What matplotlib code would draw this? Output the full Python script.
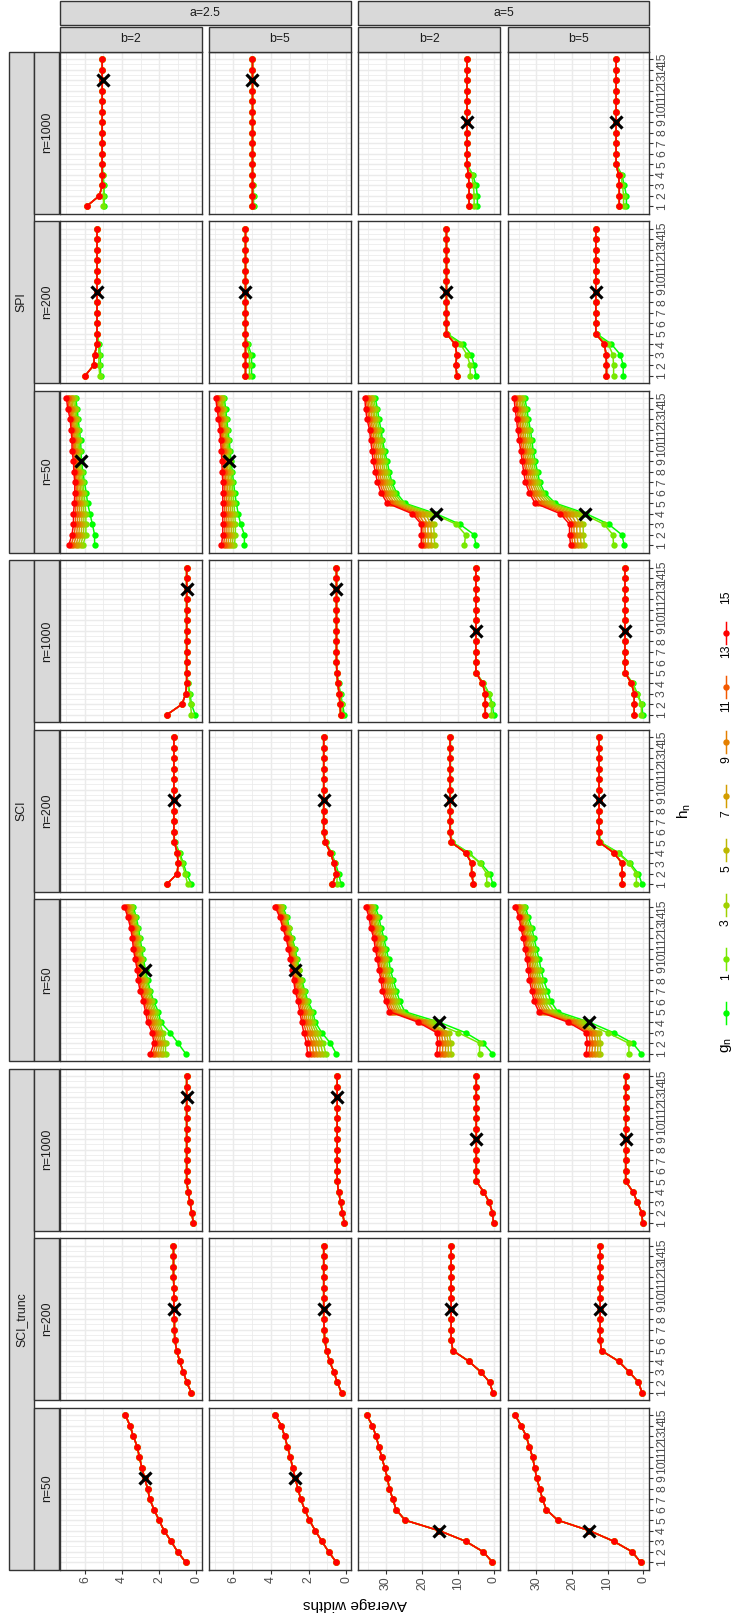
import numpy as np
import matplotlib
matplotlib.use('Agg')
import matplotlib.pyplot as plt
from matplotlib.patches import Rectangle
from matplotlib.lines import Line2D
from matplotlib.ticker import MultipleLocator, FixedLocator

plt.rcParams['font.family'] = ['Liberation Sans', 'DejaVu Sans']

# ---------------- data ----------------
h_n = list(range(1, 16))
g_n = [1, 3, 5, 7, 9, 11, 13, 15]
methods = ['SPI', 'SCI', 'SCI_trunc']
sizes = ['n=1000', 'n=200', 'n=50']
a_vals = ['a=2.5', 'a=5']
b_vals = ['b=2', 'b=5']

# each panel: 1 series (same for every g), 3 series (g=1, g=3, g>=5) or 8 series (g=1..15)
# panels in order (a=2.5,b=2), (a=2.5,b=5), (a=5,b=2), (a=5,b=5)
spi_n1000 = [
    [[4.97, 4.97, 4.97, 5.02, 5.07, 5.07, 5.07, 5.07, 5.07, 5.07, 5.07, 5.07, 5.07, 5.07, 5.07],
     [5.00, 5.00, 5.00, 5.05, 5.07, 5.07, 5.07, 5.07, 5.07, 5.07, 5.07, 5.07, 5.07, 5.07, 5.07],
     [5.91, 5.22, 5.07, 5.07, 5.07, 5.07, 5.07, 5.07, 5.07, 5.07, 5.07, 5.07, 5.07, 5.07, 5.07]],
    [[4.93, 4.93, 4.95, 4.99, 4.99, 4.99, 4.99, 4.99, 4.99, 4.99, 4.99, 4.99, 4.99, 4.99, 4.99],
     [4.97, 4.97, 4.98, 4.99, 4.99, 4.99, 4.99, 4.99, 4.99, 4.99, 4.99, 4.99, 4.99, 4.99, 4.99],
     [4.99, 4.99, 4.99, 4.99, 4.99, 4.99, 4.99, 4.99, 4.99, 4.99, 4.99, 4.99, 4.99, 4.99, 4.99]],
    [[4.6, 4.6, 5.0, 5.9, 7.5, 7.5, 7.5, 7.5, 7.5, 7.5, 7.5, 7.5, 7.5, 7.5, 7.5],
     [5.5, 5.5, 5.7, 6.2, 7.5, 7.5, 7.5, 7.5, 7.5, 7.5, 7.5, 7.5, 7.5, 7.5, 7.5],
     [6.9, 6.9, 6.9, 7.1, 7.5, 7.5, 7.5, 7.5, 7.5, 7.5, 7.5, 7.5, 7.5, 7.5, 7.5]],
    [[4.7, 4.7, 5.3, 6.0, 7.6, 7.6, 7.6, 7.6, 7.6, 7.6, 7.6, 7.6, 7.6, 7.6, 7.6],
     [5.5, 5.5, 5.8, 6.3, 7.6, 7.6, 7.6, 7.6, 7.6, 7.6, 7.6, 7.6, 7.6, 7.6, 7.6],
     [6.7, 6.7, 6.7, 6.9, 7.6, 7.6, 7.6, 7.6, 7.6, 7.6, 7.6, 7.6, 7.6, 7.6, 7.6]],
]
spi_n200 = [
    [[5.15, 5.17, 5.17, 5.22, 5.35, 5.35, 5.35, 5.35, 5.35, 5.35, 5.35, 5.35, 5.35, 5.35, 5.35],
     [5.20, 5.25, 5.25, 5.27, 5.35, 5.35, 5.35, 5.35, 5.35, 5.35, 5.35, 5.35, 5.35, 5.35, 5.35],
     [5.99, 5.53, 5.48, 5.35, 5.35, 5.35, 5.35, 5.35, 5.35, 5.35, 5.35, 5.35, 5.35, 5.35, 5.35]],
    [[5.04, 5.04, 5.04, 5.25, 5.37, 5.37, 5.37, 5.37, 5.37, 5.37, 5.37, 5.37, 5.37, 5.37, 5.37],
     [5.15, 5.15, 5.15, 5.30, 5.37, 5.37, 5.37, 5.37, 5.37, 5.37, 5.37, 5.37, 5.37, 5.37, 5.37],
     [5.37, 5.37, 5.37, 5.37, 5.37, 5.37, 5.37, 5.37, 5.37, 5.37, 5.37, 5.37, 5.37, 5.37, 5.37]],
    [[5.0, 5.5, 6.3, 8.6, 13.0, 13.2, 13.2, 13.2, 13.2, 13.2, 13.2, 13.2, 13.2, 13.2, 13.2],
     [6.6, 6.6, 7.5, 9.3, 13.1, 13.2, 13.2, 13.2, 13.2, 13.2, 13.2, 13.2, 13.2, 13.2, 13.2],
     [10.3, 10.6, 10.3, 10.8, 13.2, 13.2, 13.2, 13.2, 13.2, 13.2, 13.2, 13.2, 13.2, 13.2, 13.2]],
    [[5.6, 5.6, 6.4, 8.9, 13.1, 13.3, 13.3, 13.3, 13.3, 13.3, 13.3, 13.3, 13.3, 13.3, 13.3],
     [8.3, 8.3, 8.5, 9.8, 13.2, 13.3, 13.3, 13.3, 13.3, 13.3, 13.3, 13.3, 13.3, 13.3, 13.3],
     [10.3, 10.3, 10.4, 10.9, 13.3, 13.3, 13.3, 13.3, 13.3, 13.3, 13.3, 13.3, 13.3, 13.3, 13.3]],
]
spi_n50 = [
    [[5.48, 5.48, 5.60, 5.73, 5.86, 5.93, 6.03, 6.11, 6.19, 6.21, 6.24, 6.30, 6.37, 6.42, 6.50],
     [6.11, 5.95, 5.95, 5.95, 6.00, 6.05, 6.12, 6.18, 6.25, 6.28, 6.31, 6.37, 6.44, 6.49, 6.56],
     [6.24, 6.08, 6.06, 6.06, 6.10, 6.13, 6.19, 6.25, 6.31, 6.35, 6.38, 6.43, 6.50, 6.56, 6.63],
     [6.37, 6.20, 6.17, 6.17, 6.19, 6.22, 6.26, 6.32, 6.37, 6.42, 6.44, 6.50, 6.56, 6.64, 6.71],
     [6.49, 6.33, 6.29, 6.29, 6.29, 6.30, 6.34, 6.39, 6.44, 6.49, 6.51, 6.56, 6.62, 6.71, 6.78],
     [6.62, 6.45, 6.40, 6.40, 6.38, 6.38, 6.41, 6.46, 6.50, 6.56, 6.57, 6.62, 6.68, 6.78, 6.85],
     [6.75, 6.58, 6.51, 6.51, 6.48, 6.47, 6.48, 6.53, 6.56, 6.63, 6.64, 6.69, 6.74, 6.86, 6.93],
     [6.88, 6.70, 6.62, 6.62, 6.57, 6.55, 6.55, 6.60, 6.62, 6.70, 6.70, 6.75, 6.80, 6.93, 7.00]],
    [[5.42, 5.42, 5.62, 5.75, 5.85, 5.93, 6.00, 6.06, 6.13, 6.18, 6.23, 6.30, 6.36, 6.42, 6.49],
     [5.95, 5.90, 5.90, 5.93, 5.98, 6.03, 6.08, 6.13, 6.19, 6.24, 6.29, 6.35, 6.41, 6.48, 6.55],
     [6.07, 6.01, 6.01, 6.04, 6.08, 6.12, 6.16, 6.21, 6.26, 6.31, 6.36, 6.41, 6.48, 6.55, 6.62],
     [6.18, 6.12, 6.12, 6.14, 6.18, 6.21, 6.24, 6.29, 6.33, 6.38, 6.42, 6.47, 6.54, 6.61, 6.68],
     [6.30, 6.24, 6.24, 6.25, 6.27, 6.30, 6.33, 6.36, 6.41, 6.44, 6.49, 6.54, 6.61, 6.68, 6.75],
     [6.41, 6.35, 6.35, 6.36, 6.37, 6.39, 6.41, 6.44, 6.48, 6.51, 6.56, 6.60, 6.67, 6.74, 6.82],
     [6.53, 6.46, 6.46, 6.46, 6.47, 6.48, 6.49, 6.52, 6.55, 6.58, 6.62, 6.66, 6.74, 6.81, 6.88],
     [6.64, 6.57, 6.57, 6.57, 6.57, 6.57, 6.57, 6.60, 6.62, 6.65, 6.69, 6.72, 6.80, 6.87, 6.95]],
    [[5.0, 5.5, 9.5, 16.1, 24.8, 27.1, 28.4, 29.1, 29.7, 30.4, 31.0, 31.4, 32.0, 32.4, 33.0],
     [8.2, 7.9, 10.5, 17.0, 25.5, 27.7, 28.9, 29.6, 30.2, 30.8, 31.4, 31.9, 32.5, 32.9, 33.5],
     [16.5, 16.6, 16.8, 18.0, 26.2, 28.3, 29.5, 30.2, 30.8, 31.3, 31.9, 32.4, 33.0, 33.4, 33.9],
     [17.4, 17.4, 17.6, 19.0, 26.9, 28.9, 30.1, 30.7, 31.3, 31.8, 32.4, 32.8, 33.4, 33.8, 34.3],
     [18.3, 18.3, 18.4, 20.0, 27.6, 29.6, 30.6, 31.3, 31.9, 32.4, 32.8, 33.3, 33.9, 34.3, 34.7],
     [19.1, 19.1, 19.2, 21.0, 28.3, 30.2, 31.2, 31.9, 32.5, 32.9, 33.3, 33.7, 34.4, 34.8, 35.1],
     [19.7, 19.7, 19.8, 21.9, 29.0, 30.8, 31.8, 32.4, 33.0, 33.4, 33.8, 34.2, 34.8, 35.2, 35.5],
     [20.2, 20.2, 20.2, 22.7, 29.7, 31.4, 32.4, 33.0, 33.6, 33.9, 34.3, 34.6, 35.3, 35.7, 35.9]],
    [[5.3, 6.0, 9.7, 16.0, 24.7, 27.7, 29.1, 29.7, 30.4, 30.9, 31.3, 31.7, 32.3, 32.7, 33.3],
     [8.3, 8.5, 11.0, 17.0, 25.5, 28.3, 29.6, 30.2, 30.9, 31.4, 31.8, 32.2, 32.8, 33.2, 33.8],
     [16.5, 16.8, 16.9, 18.1, 26.3, 28.9, 30.2, 30.8, 31.4, 31.9, 32.3, 32.7, 33.3, 33.7, 34.2],
     [17.4, 17.7, 17.8, 19.2, 27.1, 29.5, 30.8, 31.3, 31.9, 32.4, 32.9, 33.3, 33.8, 34.2, 34.6],
     [18.3, 18.6, 18.7, 20.3, 27.9, 30.1, 31.3, 31.9, 32.4, 32.9, 33.4, 33.8, 34.2, 34.6, 35.0],
     [19.1, 19.4, 19.5, 21.3, 28.8, 30.8, 31.9, 32.5, 33.0, 33.4, 33.9, 34.3, 34.7, 35.1, 35.5],
     [19.8, 20.1, 20.1, 22.3, 29.6, 31.4, 32.5, 33.0, 33.5, 33.9, 34.4, 34.8, 35.1, 35.5, 35.9],
     [20.4, 20.7, 20.7, 23.3, 30.4, 32.0, 33.1, 33.6, 34.0, 34.4, 34.9, 35.3, 35.6, 36.0, 36.3]],
]
sci_n1000 = [
    [[0.05, 0.25, 0.33, 0.43, 0.51, 0.51, 0.51, 0.51, 0.51, 0.51, 0.51, 0.51, 0.51, 0.51, 0.51],
     [0.25, 0.30, 0.38, 0.45, 0.51, 0.51, 0.51, 0.51, 0.51, 0.51, 0.51, 0.51, 0.51, 0.51, 0.51],
     [1.58, 0.76, 0.56, 0.51, 0.51, 0.51, 0.51, 0.51, 0.51, 0.51, 0.51, 0.51, 0.51, 0.51, 0.51]],
    [[0.10, 0.20, 0.30, 0.41, 0.50, 0.52, 0.52, 0.52, 0.52, 0.52, 0.52, 0.52, 0.52, 0.52, 0.52],
     [0.20, 0.25, 0.33, 0.43, 0.50, 0.52, 0.52, 0.52, 0.52, 0.52, 0.52, 0.52, 0.52, 0.52, 0.52],
     [0.30, 0.33, 0.38, 0.45, 0.50, 0.52, 0.52, 0.52, 0.52, 0.52, 0.52, 0.52, 0.52, 0.52, 0.52]],
    [[0.1, 0.4, 1.3, 2.9, 5.0, 5.0, 5.0, 5.0, 5.0, 5.0, 5.0, 5.0, 5.0, 5.0, 5.0],
     [0.7, 0.7, 1.5, 3.0, 5.0, 5.0, 5.0, 5.0, 5.0, 5.0, 5.0, 5.0, 5.0, 5.0, 5.0],
     [2.4, 2.4, 2.4, 3.2, 5.0, 5.0, 5.0, 5.0, 5.0, 5.0, 5.0, 5.0, 5.0, 5.0, 5.0]],
    [[0.1, 0.4, 1.6, 2.9, 5.1, 5.1, 5.1, 5.1, 5.1, 5.1, 5.1, 5.1, 5.1, 5.1, 5.1],
     [0.5, 0.5, 1.8, 3.0, 5.1, 5.1, 5.1, 5.1, 5.1, 5.1, 5.1, 5.1, 5.1, 5.1, 5.1],
     [2.5, 2.5, 2.5, 3.3, 5.1, 5.1, 5.1, 5.1, 5.1, 5.1, 5.1, 5.1, 5.1, 5.1, 5.1]],
]
sci_n200 = [
    [[0.25, 0.51, 0.69, 0.89, 1.15, 1.20, 1.20, 1.20, 1.20, 1.20, 1.20, 1.20, 1.20, 1.20, 1.20],
     [0.45, 0.60, 0.75, 0.93, 1.17, 1.20, 1.20, 1.20, 1.20, 1.20, 1.20, 1.20, 1.20, 1.20, 1.20],
     [1.58, 1.02, 0.97, 1.02, 1.17, 1.20, 1.20, 1.20, 1.20, 1.20, 1.20, 1.20, 1.20, 1.20, 1.20]],
    [[0.28, 0.40, 0.58, 0.78, 1.09, 1.20, 1.20, 1.20, 1.20, 1.20, 1.20, 1.20, 1.20, 1.20, 1.20],
     [0.50, 0.48, 0.62, 0.80, 1.10, 1.20, 1.20, 1.20, 1.20, 1.20, 1.20, 1.20, 1.20, 1.20, 1.20],
     [0.74, 0.53, 0.66, 0.84, 1.12, 1.20, 1.20, 1.20, 1.20, 1.20, 1.20, 1.20, 1.20, 1.20, 1.20]],
    [[0.3, 1.1, 3.7, 7.0, 11.6, 12.1, 12.1, 12.1, 12.1, 12.1, 12.1, 12.1, 12.1, 12.1, 12.1],
     [2.0, 2.0, 3.9, 7.2, 11.7, 12.1, 12.1, 12.1, 12.1, 12.1, 12.1, 12.1, 12.1, 12.1, 12.1],
     [5.7, 6.2, 6.2, 7.9, 11.9, 12.2, 12.2, 12.2, 12.2, 12.2, 12.2, 12.2, 12.2, 12.2, 12.2]],
    [[0.3, 1.3, 3.7, 6.9, 12.0, 12.4, 12.4, 12.4, 12.4, 12.4, 12.4, 12.4, 12.4, 12.4, 12.4],
     [1.9, 1.9, 4.0, 7.2, 12.1, 12.4, 12.4, 12.4, 12.4, 12.4, 12.4, 12.4, 12.4, 12.4, 12.4],
     [5.9, 5.9, 5.9, 8.3, 12.3, 12.4, 12.4, 12.4, 12.4, 12.4, 12.4, 12.4, 12.4, 12.4, 12.4]],
]
sci_n50 = [
    [[0.56, 0.97, 1.40, 1.91, 2.04, 2.29, 2.47, 2.62, 2.73, 2.85, 2.93, 3.03, 3.11, 3.24, 3.39],
     [1.65, 1.65, 1.78, 1.99, 2.17, 2.36, 2.53, 2.68, 2.79, 2.90, 2.99, 3.08, 3.17, 3.30, 3.46],
     [1.79, 1.75, 1.88, 2.10, 2.26, 2.44, 2.61, 2.76, 2.86, 2.97, 3.06, 3.14, 3.23, 3.37, 3.53],
     [1.92, 1.86, 1.98, 2.20, 2.36, 2.52, 2.70, 2.83, 2.92, 3.03, 3.12, 3.20, 3.29, 3.43, 3.60],
     [2.06, 1.96, 2.07, 2.31, 2.45, 2.61, 2.78, 2.91, 2.99, 3.10, 3.19, 3.26, 3.36, 3.50, 3.66],
     [2.20, 2.06, 2.17, 2.41, 2.54, 2.69, 2.86, 2.98, 3.05, 3.16, 3.26, 3.32, 3.42, 3.56, 3.73],
     [2.33, 2.17, 2.27, 2.52, 2.64, 2.77, 2.95, 3.06, 3.12, 3.23, 3.33, 3.38, 3.48, 3.63, 3.80],
     [2.47, 2.27, 2.37, 2.62, 2.73, 2.85, 3.03, 3.13, 3.18, 3.29, 3.39, 3.44, 3.54, 3.69, 3.87]],
    [[0.53, 0.84, 1.30, 1.65, 1.78, 2.04, 2.21, 2.37, 2.49, 2.62, 2.72, 2.88, 3.03, 3.16, 3.38],
     [1.09, 1.22, 1.48, 1.75, 1.86, 2.10, 2.27, 2.42, 2.53, 2.66, 2.76, 2.92, 3.07, 3.21, 3.43],
     [1.25, 1.37, 1.61, 1.85, 1.96, 2.18, 2.35, 2.48, 2.59, 2.71, 2.81, 2.97, 3.12, 3.27, 3.49],
     [1.41, 1.52, 1.74, 1.96, 2.06, 2.26, 2.42, 2.55, 2.65, 2.77, 2.87, 3.01, 3.17, 3.32, 3.55],
     [1.58, 1.66, 1.87, 2.06, 2.17, 2.33, 2.50, 2.61, 2.70, 2.82, 2.92, 3.06, 3.23, 3.38, 3.61],
     [1.74, 1.81, 2.00, 2.16, 2.27, 2.41, 2.57, 2.67, 2.76, 2.87, 2.97, 3.11, 3.28, 3.43, 3.67],
     [1.90, 1.96, 2.13, 2.27, 2.37, 2.49, 2.65, 2.74, 2.82, 2.93, 3.03, 3.15, 3.33, 3.49, 3.73],
     [2.06, 2.11, 2.26, 2.37, 2.47, 2.57, 2.72, 2.80, 2.88, 2.98, 3.08, 3.20, 3.38, 3.54, 3.79]],
    [[0.4, 3.0, 7.9, 15.2, 24.8, 26.2, 27.1, 28.0, 28.8, 29.3, 30.0, 30.6, 31.4, 32.0, 33.0],
     [4.0, 4.0, 9.9, 17.0, 25.6, 26.9, 27.8, 28.6, 29.4, 29.9, 30.5, 31.1, 31.9, 32.5, 33.5],
     [11.9, 12.0, 12.5, 17.8, 26.2, 27.5, 28.4, 29.1, 29.8, 30.3, 31.0, 31.5, 32.3, 32.9, 33.9],
     [12.7, 12.7, 13.2, 18.5, 26.8, 28.0, 28.9, 29.5, 30.2, 30.7, 31.4, 31.8, 32.7, 33.3, 34.3],
     [13.5, 13.4, 13.9, 19.2, 27.4, 28.5, 29.4, 29.9, 30.6, 31.1, 31.8, 32.2, 33.1, 33.6, 34.6],
     [14.3, 14.2, 14.6, 19.8, 28.0, 29.1, 29.9, 30.5, 31.1, 31.6, 32.2, 32.6, 33.5, 34.0, 35.0],
     [15.1, 14.9, 15.3, 20.5, 28.6, 29.6, 30.5, 30.9, 31.6, 32.0, 32.6, 33.0, 33.9, 34.3, 35.3],
     [15.9, 15.6, 15.9, 21.1, 29.1, 30.1, 31.0, 31.4, 32.0, 32.4, 33.0, 33.4, 34.3, 34.7, 35.7]],
    [[0.5, 2.9, 8.3, 15.1, 24.0, 26.0, 26.9, 28.0, 28.7, 29.3, 30.0, 30.7, 31.3, 32.3, 33.1],
     [4.0, 4.0, 10.0, 16.5, 25.0, 27.0, 27.8, 28.8, 29.4, 30.0, 30.6, 31.3, 31.9, 32.8, 33.6],
     [12.0, 12.0, 12.3, 17.4, 26.0, 27.8, 28.5, 29.4, 29.9, 30.5, 31.2, 31.8, 32.4, 33.2, 34.1],
     [12.8, 12.7, 13.0, 18.3, 26.7, 28.4, 29.1, 29.9, 30.4, 31.0, 31.6, 32.2, 32.8, 33.6, 34.5],
     [13.6, 13.4, 13.7, 19.1, 27.4, 29.0, 29.7, 30.5, 30.9, 31.4, 32.1, 32.6, 33.3, 34.0, 35.0],
     [14.4, 14.2, 14.5, 19.8, 28.0, 29.6, 30.2, 31.0, 31.4, 31.9, 32.5, 33.0, 33.7, 34.3, 35.3],
     [15.2, 14.9, 15.2, 20.5, 28.7, 30.1, 30.8, 31.5, 31.8, 32.3, 32.9, 33.3, 34.0, 34.6, 35.7],
     [16.0, 15.7, 16.0, 21.1, 29.3, 30.7, 31.3, 32.0, 32.3, 32.7, 33.3, 33.7, 34.4, 34.9, 36.0]],
]
scitrunc_n1000 = [
    [[0.15, 0.23, 0.33, 0.43, 0.51, 0.51, 0.51, 0.51, 0.51, 0.51, 0.51, 0.51, 0.51, 0.51, 0.51]],
    [[0.10, 0.20, 0.30, 0.41, 0.48, 0.48, 0.48, 0.48, 0.48, 0.48, 0.48, 0.48, 0.48, 0.48, 0.48]],
    [[0.1, 0.4, 1.3, 2.9, 4.9, 4.9, 4.9, 4.9, 4.9, 4.9, 4.9, 4.9, 4.9, 4.9, 4.9]],
    [[0.1, 0.4, 1.6, 2.9, 4.9, 4.9, 4.9, 4.9, 4.9, 4.9, 4.9, 4.9, 4.9, 4.9, 4.9]],
]
scitrunc_n200 = [
    [[0.25, 0.51, 0.69, 0.89, 1.04, 1.15, 1.17, 1.17, 1.20, 1.20, 1.20, 1.22, 1.22, 1.22, 1.22]],
    [[0.25, 0.48, 0.66, 0.89, 1.04, 1.15, 1.17, 1.20, 1.20, 1.20, 1.20, 1.20, 1.20, 1.20, 1.20]],
    [[0.3, 1.2, 3.7, 7.0, 11.4, 11.9, 11.9, 11.9, 11.9, 11.9, 11.9, 11.9, 11.9, 11.9, 11.9]],
    [[0.3, 1.3, 4.0, 6.9, 11.7, 12.1, 12.1, 12.1, 12.1, 12.1, 12.1, 12.1, 12.1, 12.1, 12.1]],
]
scitrunc_n50 = [
    [[0.56, 1.00, 1.35, 1.73, 2.00, 2.27, 2.50, 2.62, 2.78, 2.93, 3.06, 3.18, 3.39, 3.57, 3.82]],
    [[0.53, 0.94, 1.30, 1.65, 1.96, 2.21, 2.42, 2.57, 2.72, 2.85, 2.98, 3.13, 3.28, 3.46, 3.77]],
    [[0.4, 3.0, 7.9, 15.2, 24.7, 27.2, 28.1, 29.1, 29.6, 30.4, 31.2, 32.0, 32.8, 33.8, 35.4]],
    [[0.7, 3.1, 8.3, 15.1, 24.0, 27.2, 28.3, 29.1, 29.9, 30.5, 31.1, 32.0, 32.9, 34.3, 36.0]],
]

# selected (h_n, width) shown with a black cross, same panel order
pick_h = {'n=1000': [13, 13, 9, 9], 'n=200': [9, 9, 9, 9], 'n=50': [9, 9, 4, 4]}
pick_width = [
    [5.02, 4.99, 7.5, 7.6], [5.35, 5.37, 13.2, 13.3], [6.24, 6.26, 16.1, 16.3],
    [0.51, 0.52, 5.0, 5.1], [1.20, 1.20, 12.2, 12.4], [2.75, 2.72, 15.2, 15.1],
    [0.51, 0.48, 4.9, 4.9], [1.20, 1.20, 11.9, 12.1], [2.78, 2.72, 15.2, 15.1],
]
rows = [spi_n1000, spi_n200, spi_n50, sci_n1000, sci_n200, sci_n50,
        scitrunc_n1000, scitrunc_n200, scitrunc_n50]

# ---------------- colours: green -> red in Lab ----------------
M = np.array([[0.4124564, 0.3575761, 0.1804375],
              [0.2126729, 0.7151522, 0.0721750],
              [0.0193339, 0.1191920, 0.9503041]])
WHITE = np.array([0.95047, 1.0, 1.08883])


def to_lab(rgb):
    c = np.asarray(rgb, float)
    c = np.where(c <= 0.04045, c / 12.92, ((c + 0.055) / 1.055) ** 2.4)
    xyz = M @ c / WHITE
    f = np.where(xyz > (6 / 29) ** 3, np.cbrt(xyz), xyz / (3 * (6 / 29) ** 2) + 4 / 29)
    return np.array([116 * f[1] - 16, 500 * (f[0] - f[1]), 200 * (f[1] - f[2])])


def from_lab(lab):
    fy = (lab[0] + 16) / 116
    f = np.array([fy + lab[1] / 500, fy, fy - lab[2] / 200])
    xyz = np.where(f > 6 / 29, f ** 3, 3 * (6 / 29) ** 2 * (f - 4 / 29)) * WHITE
    c = np.clip(np.linalg.inv(M) @ xyz, 0, 1)
    c = np.where(c <= 0.0031308, 12.92 * c, 1.055 * c ** (1 / 2.4) - 0.055)
    return tuple(np.clip(c, 0, 1))


lab_lo, lab_hi = to_lab([0, 1, 0]), to_lab([1, 0, 0])
colors = [from_lab(lab_lo + (g - 1) / 14 * (lab_hi - lab_lo)) for g in g_n]

# ---------------- layout (pixels, rotated ggplot page) ----------------
W, H = 735, 1623
fig = plt.figure(figsize=(W / 100, H / 100), dpi=100)
fig.patch.set_facecolor('white')


def fx(x):
    return x / W


def fy(y):
    return 1 - y / H


pw, ph = 141.6, 161.9
px0 = [60 + c * (pw + 7.6) for c in range(4)]
py0 = [51.7 + r * (ph + 7.6) for r in range(9)]
STRIP = '#D9D9D9'
EDGE = '#333333'
TXT = '#1A1A1A'


def strip(x0, y0, x1, y1, label, rot):
    fig.add_artist(Rectangle((fx(x0), fy(y1)), (x1 - x0) / W, (y1 - y0) / H,
                             transform=fig.transFigure, facecolor=STRIP,
                             edgecolor=EDGE, lw=1.0))
    fig.text(fx((x0 + x1) / 2), fy((y0 + y1) / 2), label, rotation=rot,
             ha='center', va='center', fontsize=8.8, color=TXT)


# column limits (free scale per a/b combination), ggplot style 5% expansion
col_lims = []
for c in range(4):
    vals = [v for row in rows for s in row[c] for v in s]
    lo, hi = min(vals), max(vals)
    col_lims.append((lo - 0.05 * (hi - lo), hi + 0.05 * (hi - lo)))

for r in range(9):
    size = sizes[r % 3]
    for c in range(4):
        ax = fig.add_axes([fx(px0[c]), fy(py0[r] + ph), pw / W, ph / H])
        series = rows[r][c]
        for k, g in enumerate(g_n):
            if len(series) == 1:
                s = series[0]
            elif len(series) == 3:
                s = series[min(k, 2)]
            else:
                s = series[k]
            ax.plot(s, h_n, color=colors[k], lw=1.07, marker='o', ms=4.6,
                    mew=0, zorder=2 + k * 0.01, clip_on=False)
        ax.plot([pick_width[r][c]], [pick_h[size][c]], ls='none', marker='x',
                color='black', ms=8.5, mew=2.3, zorder=5)
        lo, hi = col_lims[c]
        ax.set_xlim(hi, lo)
        ax.set_ylim(0.3, 15.7)
        step = 2 if c < 2 else 10
        ax.xaxis.set_major_locator(MultipleLocator(step))
        ax.xaxis.set_minor_locator(MultipleLocator(step / 2))
        ax.yaxis.set_major_locator(FixedLocator(h_n))
        ax.yaxis.set_minor_locator(FixedLocator([h + 0.5 for h in h_n[:-1]]))
        ax.grid(which='major', color='#EBEBEB', lw=1.07)
        ax.grid(which='minor', color='#EBEBEB', lw=0.55)
        ax.set_axisbelow(True)
        for sp in ax.spines.values():
            sp.set_color(EDGE)
            sp.set_linewidth(1.0)
        ax.tick_params(which='both', length=0, labelbottom=False, labelleft=False)
        if c == 3:
            ax.yaxis.tick_right()
            ax.tick_params(axis='y', which='major', length=2.75, width=0.8,
                           color=EDGE, labelright=True, labelsize=8.8,
                           labelcolor='#4D4D4D', labelrotation=90, pad=2.2)
            for lb in ax.get_yticklabels():
                lb.set_va('center')
        if r == 8:
            ax.tick_params(axis='x', which='major', length=2.75, width=0.8,
                           color=EDGE, labelbottom=True, labelsize=8.8,
                           labelcolor='#4D4D4D', labelrotation=90, pad=2.2)
        ax.tick_params(which='minor', length=0)

# top strips
for i, a in enumerate(a_vals):
    strip(px0[2 * i], 0.8, px0[2 * i + 1] + pw, 25.4, a, 0)
    for j, b in enumerate(b_vals):
        c = 2 * i + j
        strip(px0[c], 27.3, px0[c] + pw, 51.7, b, 0)

# left strips
for m, name in enumerate(methods):
    top = py0[3 * m]
    bot = py0[3 * m + 2] + ph
    strip(8.5, top, 34.0, bot, name, 90)
    for k, size in enumerate(sizes):
        r = 3 * m + k
        strip(34.0, py0[r], 59.5, py0[r] + ph, size, 90)

# axis titles
mid_y = (py0[0] + py0[-1] + ph) / 2
fig.text(fx((px0[0] + px0[-1] + pw) / 2), fy(1604), 'Average widths', rotation=180,
         ha='center', va='center', fontsize=11, color='black')
fig.text(fx(684), fy(mid_y), r'$\mathregular{h_n}$', rotation=90,
         ha='center', va='center', fontsize=11, color='black')

# legend (rotated, each key sits below its label)
leg_x = 726
label_y = [977, 923, 869, 814, 760, 706, 651, 597]
for k, g in enumerate(g_n):
    ky = label_y[k] + 36
    fig.add_artist(Line2D([fx(leg_x), fx(leg_x)], [fy(ky - 11), fy(ky + 11)],
                          transform=fig.transFigure, color=colors[k], lw=1.07))
    fig.add_artist(Line2D([fx(leg_x)], [fy(ky)], transform=fig.transFigure,
                          color=colors[k], marker='o', ms=4.6, mew=0))
    fig.text(fx(leg_x), fy(label_y[k]), str(g), rotation=90, ha='center',
             va='center', fontsize=8.8, color='black')
fig.text(fx(leg_x), fy(1045), r'$\mathregular{g_n}$', rotation=90, ha='center',
         va='center', fontsize=11, color='black')

fig.savefig('out.png', dpi=100, facecolor='white')
